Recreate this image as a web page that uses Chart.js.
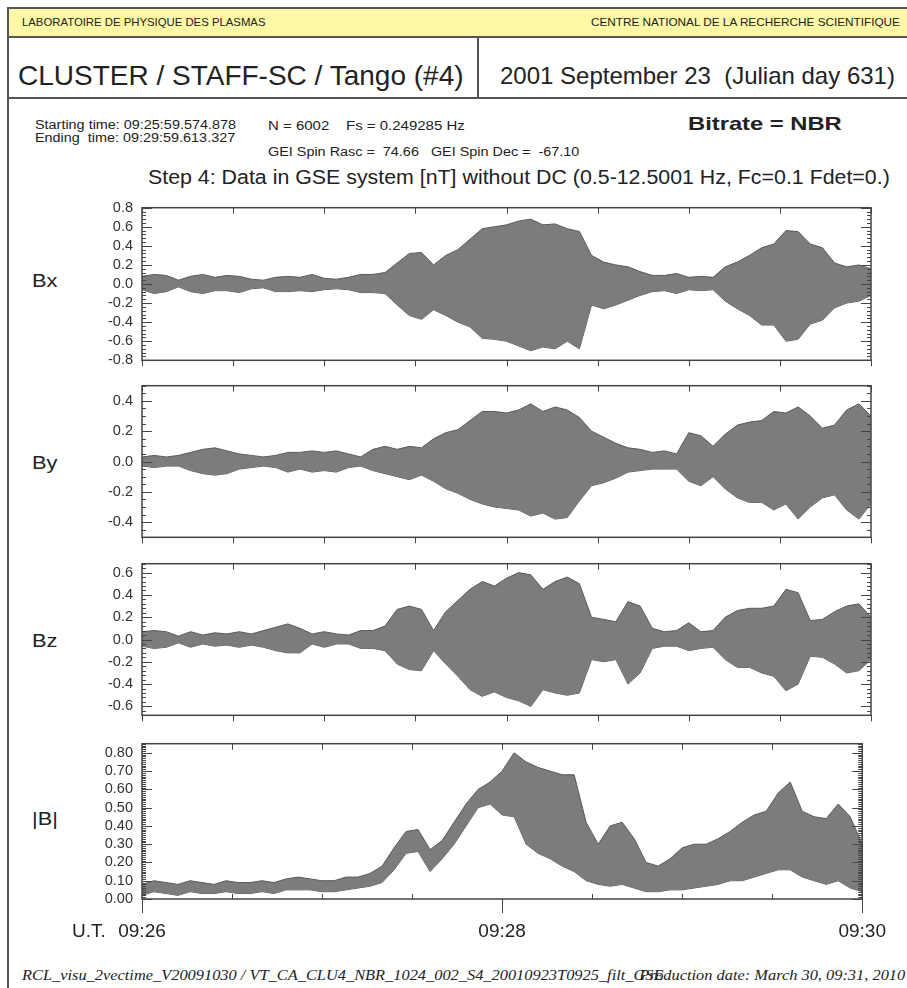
<!DOCTYPE html>
<html>
<head>
<title>CLUSTER / STAFF-SC / Tango (#4)</title>
<meta charset="utf-8">
<script src="https://cdn.jsdelivr.net/npm/chart.js"></script>
<style>
  body { margin: 0; background: #fff; font-family: "Liberation Sans", Arial, sans-serif; color: #222; }
  #page { position: relative; width: 907px; height: 988px; overflow: hidden; background: #fff; }
  .t { position: absolute; white-space: nowrap; line-height: 1; transform-origin: 0 50%; }
  .r { transform-origin: 100% 50%; }
  .ln { position: absolute; background: #555; }
  .ft { font-family: "Liberation Serif", serif; font-style: italic; font-size: 14px; transform: scaleX(1.17); }
  canvas { position: absolute; left: 0; }
</style>
<script type="text/javascript">

// seconds after 09:26:00 U.T.
var tSec = [0,4,8,12,16,20,24,28,32,36,40,44,48,52,56,60,64,68,72,76,80,84,88,92,96,100,
            104,108,112,116,120,124,128,132,136,140,144,148,152,156,160,164,168,172,176,180,
            184,188,192,196,200,204,208,212,216,220,224,228,232,236,240];

// envelope of each component, nT (upper / lower edge of the oscillation)
var bxHigh = [0.08,0.10,0.09,0.04,0.08,0.10,0.07,0.09,0.08,0.05,0.04,0.07,0.08,0.07,0.10,0.06,0.05,0.07,0.10,0.10,
              0.12,0.22,0.32,0.33,0.20,0.30,0.36,0.47,0.58,0.60,0.62,0.66,0.68,0.62,0.63,0.58,0.55,0.30,0.23,0.20,
              0.18,0.13,0.09,0.09,0.11,0.07,0.08,0.07,0.18,0.23,0.30,0.38,0.42,0.56,0.55,0.42,0.38,0.22,0.18,0.20,0.16];
var bxLow  = [-0.06,-0.10,-0.08,-0.03,-0.08,-0.10,-0.07,-0.07,-0.09,-0.05,-0.04,-0.08,-0.08,-0.07,-0.08,-0.06,-0.05,-0.06,-0.09,-0.09,
              -0.10,-0.22,-0.33,-0.37,-0.27,-0.33,-0.40,-0.45,-0.57,-0.58,-0.60,-0.65,-0.70,-0.66,-0.68,-0.60,-0.68,-0.22,-0.26,-0.22,
              -0.17,-0.12,-0.08,-0.07,-0.10,-0.06,-0.07,-0.06,-0.18,-0.26,-0.33,-0.43,-0.43,-0.60,-0.58,-0.42,-0.38,-0.25,-0.20,-0.18,-0.12];

var byHigh = [0.03,0.04,0.03,0.04,0.06,0.08,0.09,0.07,0.05,0.04,0.03,0.04,0.06,0.06,0.07,0.06,0.07,0.05,0.03,0.08,
              0.10,0.08,0.10,0.09,0.15,0.19,0.21,0.27,0.33,0.33,0.32,0.34,0.38,0.33,0.36,0.34,0.29,0.20,0.16,0.12,
              0.09,0.08,0.06,0.07,0.05,0.19,0.17,0.10,0.18,0.24,0.26,0.27,0.33,0.32,0.36,0.30,0.22,0.24,0.34,0.38,0.30];
var byLow  = [-0.03,-0.04,-0.03,-0.03,-0.06,-0.08,-0.09,-0.08,-0.05,-0.04,-0.03,-0.04,-0.07,-0.05,-0.07,-0.06,-0.07,-0.04,-0.03,-0.06,
              -0.08,-0.10,-0.12,-0.09,-0.13,-0.18,-0.21,-0.25,-0.28,-0.30,-0.31,-0.32,-0.36,-0.34,-0.38,-0.37,-0.26,-0.16,-0.14,-0.11,
              -0.07,-0.06,-0.05,-0.05,-0.05,-0.13,-0.16,-0.10,-0.18,-0.24,-0.27,-0.27,-0.32,-0.28,-0.38,-0.30,-0.24,-0.22,-0.32,-0.38,-0.28];

var bzHigh = [0.07,0.08,0.07,0.03,0.07,0.04,0.06,0.05,0.07,0.05,0.08,0.11,0.14,0.10,0.05,0.07,0.05,0.04,0.08,0.08,
              0.12,0.27,0.30,0.27,0.08,0.25,0.35,0.45,0.52,0.48,0.55,0.60,0.58,0.45,0.52,0.56,0.50,0.20,0.18,0.16,
              0.34,0.30,0.10,0.07,0.08,0.15,0.07,0.08,0.20,0.26,0.28,0.28,0.30,0.45,0.42,0.17,0.18,0.25,0.30,0.32,0.20];
var bzLow  = [-0.06,-0.08,-0.07,-0.03,-0.07,-0.04,-0.06,-0.05,-0.07,-0.05,-0.07,-0.10,-0.12,-0.12,-0.04,-0.07,-0.04,-0.04,-0.08,-0.08,
              -0.10,-0.22,-0.27,-0.28,-0.10,-0.22,-0.33,-0.45,-0.51,-0.47,-0.52,-0.55,-0.60,-0.45,-0.48,-0.50,-0.48,-0.18,-0.20,-0.18,
              -0.40,-0.30,-0.08,-0.06,-0.06,-0.10,-0.08,-0.07,-0.18,-0.25,-0.25,-0.30,-0.33,-0.46,-0.40,-0.15,-0.16,-0.22,-0.30,-0.28,-0.18];

var bmHigh = [0.08,0.10,0.09,0.08,0.10,0.09,0.08,0.10,0.09,0.09,0.10,0.09,0.11,0.12,0.11,0.10,0.10,0.12,0.12,0.14,
              0.18,0.28,0.37,0.38,0.27,0.32,0.42,0.52,0.60,0.64,0.70,0.80,0.75,0.72,0.70,0.68,0.68,0.42,0.30,0.40,
              0.42,0.33,0.20,0.18,0.22,0.28,0.30,0.30,0.33,0.37,0.42,0.46,0.48,0.58,0.64,0.48,0.45,0.44,0.52,0.45,0.30];
var bmLow  = [0.02,0.04,0.03,0.02,0.04,0.03,0.03,0.04,0.03,0.03,0.04,0.03,0.05,0.05,0.05,0.04,0.04,0.05,0.06,0.07,
              0.09,0.16,0.25,0.26,0.15,0.22,0.30,0.40,0.50,0.52,0.46,0.45,0.30,0.25,0.22,0.18,0.15,0.10,0.08,0.07,
              0.08,0.06,0.04,0.04,0.05,0.05,0.06,0.07,0.08,0.10,0.10,0.12,0.14,0.16,0.16,0.12,0.10,0.08,0.10,0.06,0.04];

// tick labels
var bxTicks = [-0.8,-0.6,-0.4,-0.2,0.0,0.2,0.4,0.6,0.8];
var byTicks = [-0.4,-0.2,0.0,0.2,0.4];
var bzTicks = [-0.6,-0.4,-0.2,0.0,0.2,0.4,0.6];
var bmTicks = [0.0,0.1,0.2,0.3,0.4,0.5,0.6,0.7,0.8];
var timeTicks = [0,120,240];
var timeLabels = ['09:26','09:28','09:30'];

var FONT = '"Liberation Sans", Arial, sans-serif';
var AXIS = '#444';

function framePlugin(minorStep, majorStep, isLast) {
    return {
        id: 'frame',
        afterDraw: function (chart) {
            var ctx = chart.ctx, a = chart.chartArea;
            var ys = chart.scales.y, xs = chart.scales.x;
            ctx.save();
            ctx.strokeStyle = AXIS;
            ctx.lineWidth = 1.5;
            ctx.strokeRect(a.left, a.top, a.right - a.left, a.bottom - a.top);
            ctx.lineWidth = 1;
            ctx.beginPath();
            var i0 = Math.ceil(ys.min / minorStep - 1e-6), i1 = Math.floor(ys.max / minorStep + 1e-6);
            var ratio = Math.round(majorStep / minorStep);
            for (var i = i0; i <= i1; i++) {
                var y = Math.round(ys.getPixelForValue(i * minorStep)) + 0.5;
                var len = (i % ratio === 0) ? 10 : 4;
                ctx.moveTo(a.left, y); ctx.lineTo(a.left + len, y);
                ctx.moveTo(a.right, y); ctx.lineTo(a.right - len, y);
            }
            for (var t = 0; t <= 240; t += 30) {
                var x = Math.round(xs.getPixelForValue(t)) + 0.5;
                ctx.moveTo(x, a.top); ctx.lineTo(x, a.top + 6);
                if (!isLast) {
                    ctx.moveTo(x, a.bottom); ctx.lineTo(x, a.bottom + 6);
                } else if (t % 120 === 0) {
                    ctx.moveTo(x, a.bottom); ctx.lineTo(x, a.bottom + 14);
                } else {
                    ctx.moveTo(x, a.bottom); ctx.lineTo(x, a.bottom - 5);
                }
            }
            ctx.stroke();
            ctx.restore();
        }
    };
}

function makePanel(id, high, low, ticks, ymin, ymax, decimals, minorStep, majorStep, isLast) {
    var hi = tSec.map(function (t, i) { return { x: t, y: high[i] }; });
    var lo = tSec.map(function (t, i) { return { x: t, y: low[i] }; });
    var ctx = document.getElementById(id).getContext('2d');
    return new Chart(ctx, {
        type: 'line',
        data: {
            datasets: [
                { data: hi, fill: '+1', backgroundColor: '#7c7c7c', borderColor: '#5a5a5a', borderWidth: 1,
                  pointRadius: 0, tension: 0 },
                { data: lo, fill: false, borderColor: '#5a5a5a', borderWidth: 1, pointRadius: 0, tension: 0 }
            ]
        },
        options: {
            responsive: false,
            animation: false,
            devicePixelRatio: 1,
            layout: { padding: { left: 0, right: 36, top: 12, bottom: isLast ? 0 : 12 } },
            plugins: { legend: { display: false }, tooltip: { enabled: false } },
            scales: {
                x: {
                    type: 'linear', min: 0, max: 240,
                    display: isLast,
                    afterBuildTicks: function (s) { s.ticks = timeTicks.map(function (v) { return { value: v }; }); },
                    afterFit: function (s) { if (isLast) s.height = 50; },
                    grid: { display: false, drawTicks: false },
                    border: { display: false },
                    ticks: {
                        autoSkip: false, maxRotation: 0, padding: 21, color: '#222',
                        font: { family: FONT, size: 19 },
                        callback: function (v) { return timeLabels[timeTicks.indexOf(v)]; }
                    }
                },
                y: {
                    type: 'linear', min: ymin, max: ymax,
                    afterBuildTicks: function (s) { s.ticks = ticks.map(function (v) { return { value: v }; }); },
                    afterFit: function (s) { s.width = 142; },
                    grid: { display: false, drawTicks: false },
                    border: { display: false },
                    ticks: {
                        autoSkip: false, padding: 9, color: '#333',
                        font: { family: FONT, size: 14.5 },
                        callback: function (v) { return Number(v).toFixed(decimals); }
                    }
                }
            }
        },
        plugins: [framePlugin(minorStep, majorStep, isLast)]
    });
}

window.onload = function () {
    makePanel('bx', bxHigh, bxLow, bxTicks, -0.8, 0.8, 1, 0.04, 0.2, false);
    makePanel('by', byHigh, byLow, byTicks, -0.5, 0.5, 1, 0.05, 0.2, false);
    makePanel('bz', bzHigh, bzLow, bzTicks, -0.68, 0.68, 1, 0.04, 0.2, false);
    makePanel('bm', bmHigh, bmLow, bmTicks, 0, 0.85, 2, 0.01, 0.1, true);
};
</script>
</head>
<body>
<div id="page">
  <!-- outer frame and header boxes -->
  <div class="ln" style="left:7px; top:7px; width:920px; height:1.5px;"></div>
  <div class="ln" style="left:7px; top:7px; width:1.5px; height:990px;"></div>
  <div style="position:absolute; left:8.5px; top:8.5px; width:920px; height:27.5px; background:#fcf8a6;"></div>
  <div class="ln" style="left:7px; top:36px; width:920px; height:1.5px;"></div>
  <div class="ln" style="left:7px; top:97px; width:920px; height:1.5px;"></div>
  <div class="ln" style="left:477px; top:36px; width:1.5px; height:62px;"></div>

  <div class="t" style="left:22px; top:17px; font-size:10.5px; transform:scaleX(1.08);">LABORATOIRE DE PHYSIQUE DES PLASMAS</div>
  <div class="t r" style="right:7px; top:17px; font-size:10.5px; transform:scaleX(1.12);">CENTRE NATIONAL DE LA RECHERCHE SCIENTIFIQUE</div>
  <div class="t" style="left:18px; top:62px; font-size:28px;">CLUSTER / STAFF-SC / Tango (#4)</div>
  <div class="t" style="left:500px; top:64px; font-size:24px;">2001 September 23&nbsp; (Julian day 631)</div>

  <div class="t" style="left:35px; top:119px; font-size:12px; transform:scaleX(1.2);">Starting time: 09:25:59.574.878</div>
  <div class="t" style="left:35px; top:132px; font-size:12px; transform:scaleX(1.2);">Ending&nbsp; time: 09:29:59.613.327</div>
  <div class="t" style="left:268px; top:120px; font-size:12px; transform:scaleX(1.25);">N = 6002&nbsp;&nbsp;&nbsp; Fs = 0.249285 Hz</div>
  <div class="t" style="left:268px; top:146px; font-size:12px; transform:scaleX(1.2);">GEI Spin Rasc =&nbsp; 74.66&nbsp;&nbsp; GEI Spin Dec =&nbsp; -67.10</div>
  <div class="t" style="left:688px; top:114px; font-size:19px; font-weight:bold; transform:scaleX(1.25);">Bitrate = NBR</div>
  <div class="t" style="left:148px; top:168px; font-size:19.5px; transform:scaleX(1.095);">Step 4: Data in GSE system [nT] without DC (0.5-12.5001 Hz, Fc=0.1 Fdet=0.)</div>

  <div class="t" style="left:32px; top:271px; font-size:19px; transform:scaleX(1.15);">Bx</div>
  <div class="t" style="left:32px; top:453px; font-size:19px; transform:scaleX(1.15);">By</div>
  <div class="t" style="left:32px; top:631px; font-size:19px; transform:scaleX(1.15);">Bz</div>
  <div class="t" style="left:32px; top:809px; font-size:19px; transform:scaleX(1.15);">|B|</div>

  <canvas id="bx" width="907" height="188" style="top:190px;"></canvas>
  <canvas id="by" width="907" height="187" style="top:368px;"></canvas>
  <canvas id="bz" width="907" height="187" style="top:546px;"></canvas>
  <canvas id="bm" width="907" height="223" style="top:726px;"></canvas>

  <div class="t" style="left:72px; top:921px; font-size:19px;">U.T.</div>
  <div class="t ft" style="left:22px; top:969px;">RCL_visu_2vectime_V20091030 / VT_CA_CLU4_NBR_1024_002_S4_20010923T0925_filt_GSE</div>
  <div class="t ft r" style="right:2px; top:969px;">Production date: March 30, 09:31, 2010</div>
</div>
</body>
</html>
